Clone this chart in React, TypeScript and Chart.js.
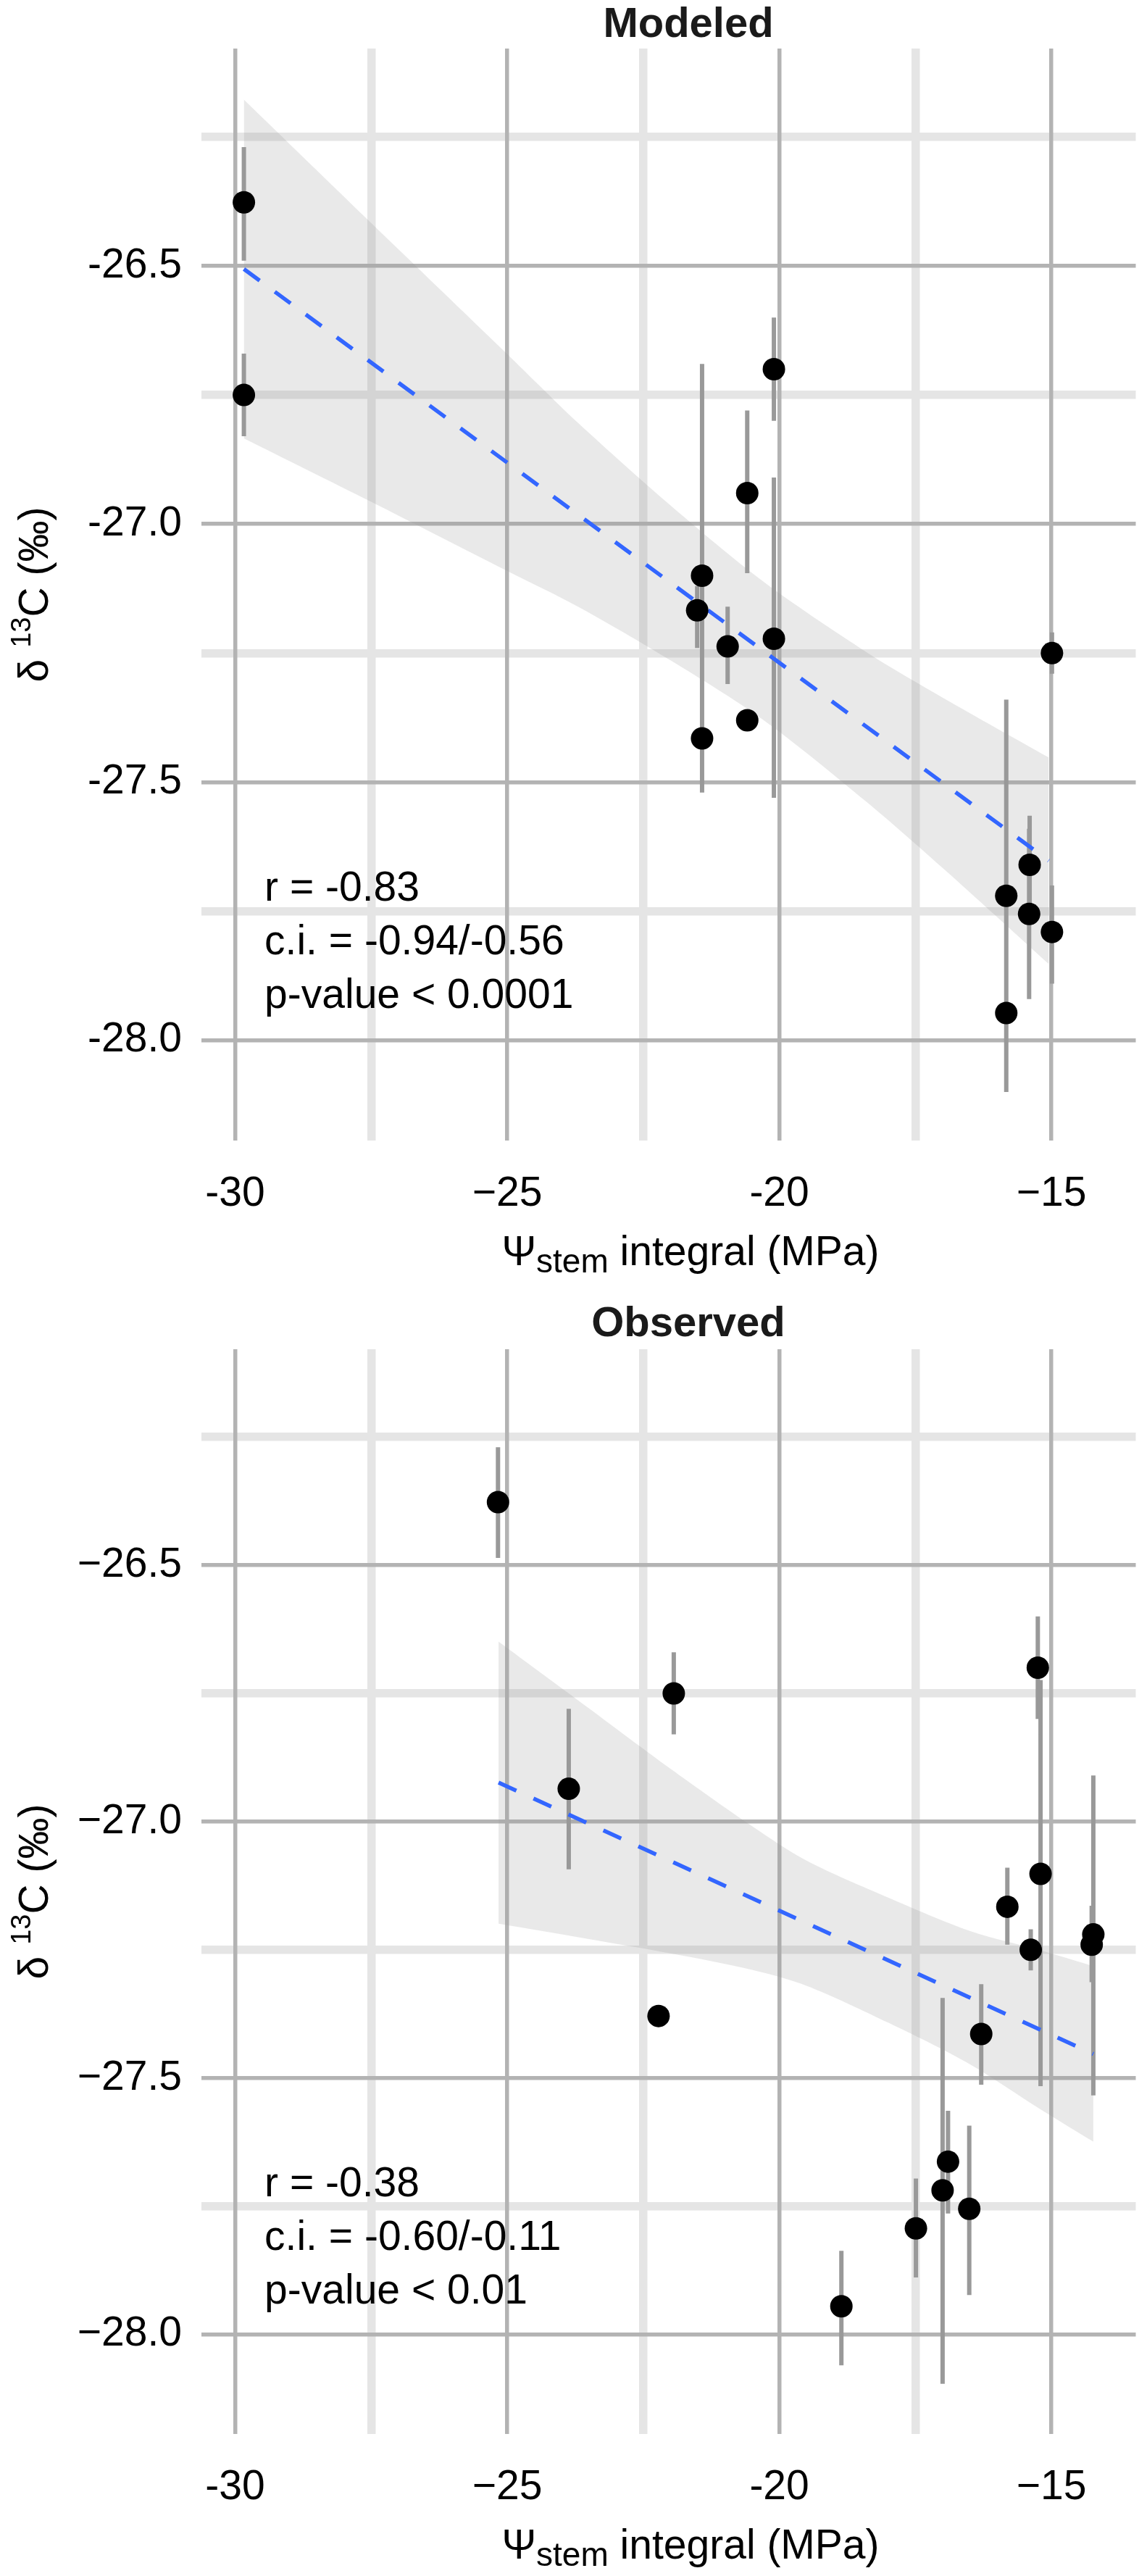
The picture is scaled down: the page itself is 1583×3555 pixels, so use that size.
import { useEffect, useRef } from 'react';
import { Chart, registerables } from 'chart.js';

Chart.register(...registerables);

const FONT = '"Liberation Sans", Arial, Helvetica, sans-serif';

// ---- Modeled panel ----
const modX = [-29.84, -29.84, -21.42, -21.42, -21.51, -20.95, -20.59, -20.59, -20.1, -20.1, -15.83, -15.83, -15.4, -15.41, -14.99, -14.99];
const modY = [-26.377, -26.75, -27.1, -27.415, -27.167, -27.237, -26.94, -27.38, -26.7, -27.222, -27.72, -27.947, -27.66, -27.755, -27.25, -27.79];
const modLo = [-26.49, -26.83, -27.3, -27.52, -27.24, -27.31, -27.095, -27.4, -26.8, -27.53, -27.85, -28.1, -27.75, -27.92, -27.29, -27.89];
const modHi = [-26.27, -26.67, -26.69, -27.3, -27.12, -27.16, -26.78, -27.36, -26.6, -26.91, -27.34, -27.85, -27.565, -27.59, -27.21, -27.7];
const modFitX = [-29.84, -15.05];
const modFitY = [-26.506, -27.652];
const modBandX = [-29.84, -27.5, -25, -23.7, -22, -20.3, -18.4, -17, -15.05];
const modBandLo = [-26.834, -26.957, -27.091, -27.16, -27.264, -27.379, -27.538, -27.666, -27.852];
const modBandHi = [-26.178, -26.417, -26.671, -26.804, -26.964, -27.111, -27.248, -27.336, -27.452];
const modStats = ['r = -0.83', 'c.i. = -0.94/-0.56', 'p-value < 0.0001'];
const modYLabels = ['-26.5', '-27.0', '-27.5', '-28.0'];

// ---- Observed panel ----
const obsX = [-25.17, -23.87, -21.94, -22.22, -18.86, -17.49, -17.0, -16.9, -16.51, -16.29, -15.81, -15.38, -15.2, -15.25, -14.26, -14.23];
const obsY = [-26.377, -26.936, -26.75, -27.379, -27.945, -27.793, -27.719, -27.663, -27.755, -27.414, -27.166, -27.25, -27.102, -26.7, -27.24, -27.22];
const obsLo = [-26.486, -27.093, -26.83, -27.39, -28.06, -27.889, -28.096, -27.764, -27.923, -27.513, -27.24, -27.29, -27.516, -26.8, -27.313, -27.534];
const obsHi = [-26.27, -26.78, -26.67, -27.37, -27.837, -27.696, -27.344, -27.564, -27.593, -27.317, -27.09, -27.21, -26.724, -26.6, -27.164, -26.91];
const obsFitX = [-25.16, -14.23];
const obsFitY = [-26.924, -27.453];
const obsBandX = [-25.16, -23.5, -22, -20.5, -19.5, -18, -16.5, -15.2, -14.23];
const obsBandLo = [-27.199, -27.229, -27.257, -27.289, -27.32, -27.392, -27.473, -27.561, -27.624];
const obsBandHi = [-26.649, -26.779, -26.897, -27.009, -27.076, -27.148, -27.213, -27.251, -27.282];
const obsStats = ['r = -0.38', 'c.i. = -0.60/-0.11', 'p-value < 0.01'];
const obsYLabels = ['\u221226.5', '\u221227.0', '\u221227.5', '\u221228.0'];

// ---- shared axes ----
const xMajorTicks = [-30, -25, -20, -15];
const xTickLabels = ['-30', '\u221225', '-20', '\u221215'];
const yMajorTicks = [-26.5, -27.0, -27.5, -28.0];
const X_MIN = -30.62;
const X_MAX = -13.45;
const Y_MIN = -28.194;
const Y_MAX = -26.079;

const MAJOR = '#b3b3b3';
const MINOR = '#e5e5e5';

interface PanelProps {
  title: string;
  xs: number[];
  ys: number[];
  lo: number[];
  hi: number[];
  fitX: number[];
  fitY: number[];
  bandX: number[];
  bandLo: number[];
  bandHi: number[];
  stats: string[];
  yLabels: string[];
  height: number;
  xAxisHeight: number;
  padRight: number;
  titleBaseline: number;
}

const near = (a: number, b: number) => Math.abs(a - b) < 1e-6;

function Panel(p: PanelProps) {
  const canvasRef = useRef<HTMLCanvasElement>(null);

  useEffect(() => {
    if (!canvasRef.current) return;

    // error bars: one line dataset, segments split by null points
    const bars: any[] = [];
    p.xs.forEach((x, i) => {
      bars.push({ x, y: p.lo[i] }, { x, y: p.hi[i] }, { x, y: null });
    });

    const textPlugin = {
      id: 'panelText',
      afterDraw(chart: any) {
        const { ctx, chartArea, scales } = chart;
        ctx.save();
        ctx.textBaseline = 'alphabetic';

        // title
        ctx.font = `bold 58px ${FONT}`;
        ctx.fillStyle = '#1a1a1a';
        ctx.textAlign = 'center';
        ctx.fillText(p.title, 950, p.titleBaseline);

        // correlation stats
        ctx.font = `57px ${FONT}`;
        ctx.fillStyle = '#000';
        ctx.textAlign = 'left';
        const sx = scales.x.getPixelForValue(-29.46);
        const sy = scales.y.getPixelForValue(-27.73);
        p.stats.forEach((s, i) => ctx.fillText(s, sx, sy + i * 74));

        // x axis title: Ψ_stem integral (MPa)
        const parts = [
          { t: '\u03A8', size: 57, dy: 0 },
          { t: 'stem', size: 46, dy: 10 },
          { t: ' integral (MPa)', size: 57, dy: 0 },
        ];
        let total = 0;
        parts.forEach((pt) => {
          ctx.font = `${pt.size}px ${FONT}`;
          total += ctx.measureText(pt.t).width;
        });
        let cx = 953 - total / 2;
        const by = chartArea.bottom + 172;
        parts.forEach((pt) => {
          ctx.font = `${pt.size}px ${FONT}`;
          ctx.fillText(pt.t, cx, by + pt.dy);
          cx += ctx.measureText(pt.t).width;
        });

        // y axis title: δ 13C (‰), rotated
        const yparts = [
          { t: '\u03B4 ', size: 57, dy: 0 },
          { t: '13', size: 38, dy: -24 },
          { t: 'C (\u2030)', size: 57, dy: 0 },
        ];
        let ytotal = 0;
        yparts.forEach((pt) => {
          ctx.font = `${pt.size}px ${FONT}`;
          ytotal += ctx.measureText(pt.t).width;
        });
        const cy = (chartArea.top + chartArea.bottom) / 2;
        ctx.translate(66, cy);
        ctx.rotate(-Math.PI / 2);
        let tx = -ytotal / 2;
        yparts.forEach((pt) => {
          ctx.font = `${pt.size}px ${FONT}`;
          ctx.fillText(pt.t, tx, pt.dy);
          tx += ctx.measureText(pt.t).width;
        });
        ctx.restore();
      },
    };

    const chart = new Chart(canvasRef.current, {
      type: 'scatter',
      data: {
        datasets: [
          {
            type: 'scatter',
            label: 'points',
            data: p.xs.map((x, i) => ({ x, y: p.ys[i] })),
            pointRadius: 15.5,
            pointHoverRadius: 15.5,
            backgroundColor: '#000',
            borderWidth: 0,
            order: 0,
            xAxisID: 'x',
            yAxisID: 'y',
          },
          {
            type: 'line',
            label: 'fit',
            data: p.fitX.map((x, i) => ({ x, y: p.fitY[i] })),
            borderColor: '#3366FF',
            borderWidth: 5.5,
            borderDash: [27, 26],
            pointRadius: 0,
            fill: false,
            order: 1,
            xAxisID: 'x',
            yAxisID: 'y',
          },
          {
            type: 'line',
            label: 'errors',
            data: bars,
            borderColor: '#999999',
            borderWidth: 6,
            pointRadius: 0,
            spanGaps: false,
            fill: false,
            order: 2,
            xAxisID: 'x',
            yAxisID: 'y',
          },
          {
            type: 'line',
            label: 'bandHi',
            data: p.bandX.map((x, i) => ({ x, y: p.bandHi[i] })),
            borderColor: 'rgba(0,0,0,0)',
            borderWidth: 0,
            pointRadius: 0,
            tension: 0.3,
            fill: '+1',
            backgroundColor: 'rgba(153,153,153,0.22)',
            order: 3,
            xAxisID: 'x',
            yAxisID: 'y',
          },
          {
            type: 'line',
            label: 'bandLo',
            data: p.bandX.map((x, i) => ({ x, y: p.bandLo[i] })),
            borderColor: 'rgba(0,0,0,0)',
            borderWidth: 0,
            pointRadius: 0,
            tension: 0.3,
            fill: false,
            order: 4,
            xAxisID: 'x',
            yAxisID: 'y',
          },
        ],
      } as any,
      options: {
        responsive: false,
        animation: false,
        devicePixelRatio: 1,
        events: [],
        layout: { padding: { top: 67, right: p.padRight, left: 0, bottom: 0 } },
        plugins: {
          legend: { display: false },
          tooltip: { enabled: false },
          title: { display: false },
        },
        scales: {
          x: {
            type: 'linear',
            axis: 'x',
            position: 'bottom',
            min: X_MIN,
            max: X_MAX,
            ticks: {
              stepSize: 5,
              includeBounds: false,
              autoSkip: false,
              maxRotation: 0,
              padding: 40,
              color: '#000',
              font: { family: FONT, size: 57 },
              callback: (v: any) => {
                const i = xMajorTicks.findIndex((t) => near(t, Number(v)));
                return i >= 0 ? xTickLabels[i] : '';
              },
            },
            grid: { color: MAJOR, lineWidth: 5.5, drawTicks: false, z: -1 },
            border: { display: false },
            afterFit: (s: any) => {
              s.height = p.xAxisHeight;
            },
          },
          xMinor: {
            type: 'linear',
            axis: 'x',
            position: 'bottom',
            min: X_MIN,
            max: X_MAX,
            ticks: { stepSize: 2.5, includeBounds: false, display: false },
            grid: {
              color: (c: any) => (c.tick && near(c.tick.value / 5, Math.round(c.tick.value / 5)) ? 'rgba(0,0,0,0)' : MINOR),
              lineWidth: 11.5,
              drawTicks: false,
              z: -2,
            },
            border: { display: false },
            afterFit: (s: any) => {
              s.height = 0;
            },
          },
          y: {
            type: 'linear',
            axis: 'y',
            position: 'left',
            min: Y_MIN,
            max: Y_MAX,
            ticks: {
              stepSize: 0.5,
              includeBounds: false,
              autoSkip: false,
              padding: 27,
              color: '#000',
              font: { family: FONT, size: 57 },
              callback: (v: any) => {
                const i = yMajorTicks.findIndex((t) => near(t, Number(v)));
                return i >= 0 ? p.yLabels[i] : '';
              },
            },
            grid: { color: MAJOR, lineWidth: 5.5, drawTicks: false, z: -1 },
            border: { display: false },
            afterFit: (s: any) => {
              s.width = 278;
            },
          },
          yMinor: {
            type: 'linear',
            axis: 'y',
            position: 'left',
            min: Y_MIN,
            max: Y_MAX,
            ticks: { stepSize: 0.25, includeBounds: false, display: false },
            grid: {
              color: (c: any) => (c.tick && near(c.tick.value * 2, Math.round(c.tick.value * 2)) ? 'rgba(0,0,0,0)' : MINOR),
              lineWidth: 11.5,
              drawTicks: false,
              z: -2,
            },
            border: { display: false },
            afterFit: (s: any) => {
              s.width = 0;
            },
          },
        },
      } as any,
      plugins: [textPlugin],
    });

    return () => {
      chart.destroy();
    };
  }, []);

  return <canvas ref={canvasRef} width={1583} height={p.height} style={{ display: 'block', width: 1583, height: p.height }} />;
}

export default function App() {
  return (
    <div style={{ position: 'absolute', left: 0, top: 0, width: 1583, height: 3555, background: '#fff', overflow: 'hidden' }}>
      <Panel
        title="Modeled"
        xs={modX}
        ys={modY}
        lo={modLo}
        hi={modHi}
        fitX={modFitX}
        fitY={modFitY}
        bandX={modBandX}
        bandLo={modBandLo}
        bandHi={modBandHi}
        stats={modStats}
        yLabels={modYLabels}
        height={1795}
        xAxisHeight={221}
        padRight={8}
        titleBaseline={51}
      />
      <Panel
        title="Observed"
        xs={obsX}
        ys={obsY}
        lo={obsLo}
        hi={obsHi}
        fitX={obsFitX}
        fitY={obsFitY}
        bandX={obsBandX}
        bandLo={obsBandLo}
        bandHi={obsBandHi}
        stats={obsStats}
        yLabels={obsYLabels}
        height={1760}
        xAxisHeight={196}
        padRight={14}
        titleBaseline={49}
      />
    </div>
  );
}
